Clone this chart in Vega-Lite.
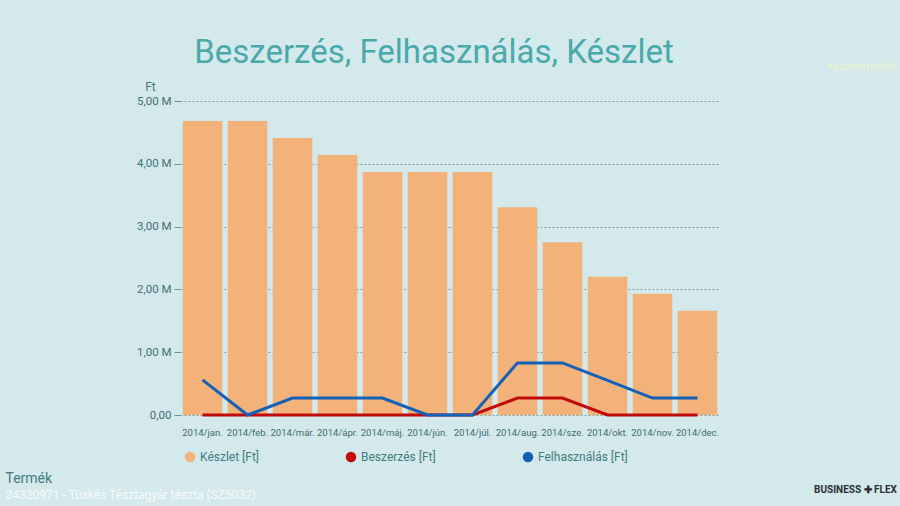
{
  "$schema": "https://vega.github.io/schema/vega-lite/v6.json",
  "width": 540,
  "height": 314,
  "autosize": "none",
  "padding": {"left": 180, "top": 101, "right": 180, "bottom": 91},
  "background": "#d4e9eb",
  "title": {
    "text": "Beszerzés, Felhasználás, Készlet",
    "anchor": "middle",
    "frame": "group",
    "dx": -16,
    "dy": 18,
    "font": "Roboto",
    "fontSize": 33,
    "fontWeight": "normal",
    "color": "#4aa9aa",
    "offset": 8
  },
  "data": {
    "values": [
      {"month": "2014/jan.", "series": "Készlet [Ft]", "value": 4680000},
      {"month": "2014/feb.", "series": "Készlet [Ft]", "value": 4680000},
      {"month": "2014/már.", "series": "Készlet [Ft]", "value": 4410000},
      {"month": "2014/ápr.", "series": "Készlet [Ft]", "value": 4140000},
      {"month": "2014/máj.", "series": "Készlet [Ft]", "value": 3870000},
      {"month": "2014/jún.", "series": "Készlet [Ft]", "value": 3870000},
      {"month": "2014/júl.", "series": "Készlet [Ft]", "value": 3870000},
      {"month": "2014/aug.", "series": "Készlet [Ft]", "value": 3310000},
      {"month": "2014/sze.", "series": "Készlet [Ft]", "value": 2750000},
      {"month": "2014/okt.", "series": "Készlet [Ft]", "value": 2200000},
      {"month": "2014/nov.", "series": "Készlet [Ft]", "value": 1930000},
      {"month": "2014/dec.", "series": "Készlet [Ft]", "value": 1660000},
      {"month": "2014/jan.", "series": "Beszerzés [Ft]", "value": 0},
      {"month": "2014/feb.", "series": "Beszerzés [Ft]", "value": 0},
      {"month": "2014/már.", "series": "Beszerzés [Ft]", "value": 0},
      {"month": "2014/ápr.", "series": "Beszerzés [Ft]", "value": 0},
      {"month": "2014/máj.", "series": "Beszerzés [Ft]", "value": 0},
      {"month": "2014/jún.", "series": "Beszerzés [Ft]", "value": 0},
      {"month": "2014/júl.", "series": "Beszerzés [Ft]", "value": 0},
      {"month": "2014/aug.", "series": "Beszerzés [Ft]", "value": 270000},
      {"month": "2014/sze.", "series": "Beszerzés [Ft]", "value": 270000},
      {"month": "2014/okt.", "series": "Beszerzés [Ft]", "value": 0},
      {"month": "2014/nov.", "series": "Beszerzés [Ft]", "value": 0},
      {"month": "2014/dec.", "series": "Beszerzés [Ft]", "value": 0},
      {"month": "2014/jan.", "series": "Felhasználás [Ft]", "value": 560000},
      {"month": "2014/feb.", "series": "Felhasználás [Ft]", "value": 0},
      {"month": "2014/már.", "series": "Felhasználás [Ft]", "value": 270000},
      {"month": "2014/ápr.", "series": "Felhasználás [Ft]", "value": 270000},
      {"month": "2014/máj.", "series": "Felhasználás [Ft]", "value": 270000},
      {"month": "2014/jún.", "series": "Felhasználás [Ft]", "value": 0},
      {"month": "2014/júl.", "series": "Felhasználás [Ft]", "value": 0},
      {"month": "2014/aug.", "series": "Felhasználás [Ft]", "value": 830000},
      {"month": "2014/sze.", "series": "Felhasználás [Ft]", "value": 830000},
      {"month": "2014/okt.", "series": "Felhasználás [Ft]", "value": 550000},
      {"month": "2014/nov.", "series": "Felhasználás [Ft]", "value": 270000},
      {"month": "2014/dec.", "series": "Felhasználás [Ft]", "value": 270000}
    ]
  },
  "encoding": {
    "color": {
      "field": "series",
      "type": "nominal",
      "scale": {
        "domain": ["Készlet [Ft]", "Beszerzés [Ft]", "Felhasználás [Ft]"],
        "range": ["#f4b27b", "#c00a0a", "#1260b8"]
      },
      "legend": {
        "orient": "none",
        "legendX": 4,
        "legendY": 350,
        "direction": "horizontal",
        "title": null,
        "symbolType": "circle",
        "symbolSize": 110,
        "symbolStrokeWidth": 0,
        "symbolOpacity": 1,
        "columnPadding": 86,
        "labelFont": "Roboto",
        "labelFontSize": 12,
        "labelColor": "#3f7c82",
        "labelOffset": 4
      }
    }
  },
  "layer": [
    {
      "transform": [{"filter": "datum.series === 'Készlet [Ft]'"}],
      "mark": {"type": "bar"},
      "encoding": {
        "x": {
          "field": "month",
          "type": "ordinal",
          "sort": null,
          "scale": {"paddingInner": 0.12, "paddingOuter": 0.06},
          "axis": {
            "orient": "bottom",
            "title": "Termék",
            "titleX": -175,
            "titleY": 63,
            "titleAlign": "left",
            "titleBaseline": "middle",
            "titleFont": "Roboto",
            "titleFontSize": 14,
            "titleFontWeight": "normal",
            "titleColor": "#3f7c82",
            "labelAngle": 0,
            "labelOverlap": false,
            "labelFont": "Roboto",
            "labelFontSize": 9.5,
            "labelColor": "#3b6c72",
            "labelPadding": 12,
            "ticks": false,
            "domain": false
          }
        },
        "y": {
          "field": "value",
          "type": "quantitative",
          "scale": {"domain": [0, 5000000], "nice": false},
          "axis": {
            "orient": "left",
            "values": [0, 1000000, 2000000, 3000000, 4000000, 5000000],
            "labelExpr": "datum.value == 0 ? '0,00' : replace(format(datum.value / 1000000, '.2f'), '.', ',') + ' M'",
            "title": "Ft",
            "titleAngle": 0,
            "titleX": -30,
            "titleY": -15,
            "titleAlign": "center",
            "titleBaseline": "middle",
            "titleFont": "Roboto",
            "titleFontSize": 12,
            "titleFontWeight": "normal",
            "titleColor": "#3f7c82",
            "labelFont": "Roboto",
            "labelFontSize": 11.5,
            "labelColor": "#3f7077",
            "labelPadding": 3,
            "tickSize": 6,
            "tickColor": "#6b9090",
            "domain": false,
            "grid": true,
            "gridColor": "#6b9090",
            "gridDash": [2, 2],
            "gridOpacity": 0.8
          }
        }
      }
    },
    {
      "transform": [{"filter": "datum.series === 'Beszerzés [Ft]'"}],
      "mark": {"type": "line", "strokeWidth": 3},
      "encoding": {
        "x": {
          "field": "month",
          "type": "ordinal",
          "sort": null,
          "axis": {
            "orient": "top",
            "title": "24320971 - Tüskés Tésztagyár tészta (SZ5032)",
            "titleX": -175,
            "titleY": 393,
            "titleAlign": "left",
            "titleBaseline": "middle",
            "titleFont": "Roboto",
            "titleFontSize": 12,
            "titleFontWeight": "normal",
            "titleColor": "#f4fbfb",
            "labels": false,
            "ticks": false,
            "domain": false,
            "grid": false
          }
        },
        "y": {
          "field": "value",
          "type": "quantitative",
          "axis": {
            "orient": "right",
            "title": "Készletmodell",
            "titleAngle": 0,
            "titleX": 141,
            "titleY": -35,
            "titleAlign": "center",
            "titleBaseline": "middle",
            "titleFont": "Roboto",
            "titleFontSize": 11,
            "titleFontWeight": "normal",
            "titleColor": "#e4f7c8",
            "labels": false,
            "ticks": false,
            "domain": false,
            "grid": false
          }
        }
      }
    },
    {
      "transform": [{"filter": "datum.series === 'Felhasználás [Ft]'"}],
      "mark": {"type": "line", "strokeWidth": 3},
      "encoding": {
        "x": {
          "field": "month",
          "type": "ordinal",
          "sort": null,
          "axis": {
            "orient": "bottom",
            "title": "BUSINESS ✚ FLEX",
            "titleX": 675,
            "titleY": 74,
            "titleAlign": "center",
            "titleBaseline": "middle",
            "titleFont": "Roboto",
            "titleFontSize": 10,
            "titleFontWeight": "bold",
            "titleColor": "#2a2f33",
            "labels": false,
            "ticks": false,
            "domain": false,
            "grid": false
          }
        },
        "y": {
          "field": "value",
          "type": "quantitative",
          "axis": null
        }
      }
    }
  ],
  "resolve": {"axis": {"x": "independent", "y": "independent"}},
  "config": {
    "view": {"stroke": null}
  }
}
